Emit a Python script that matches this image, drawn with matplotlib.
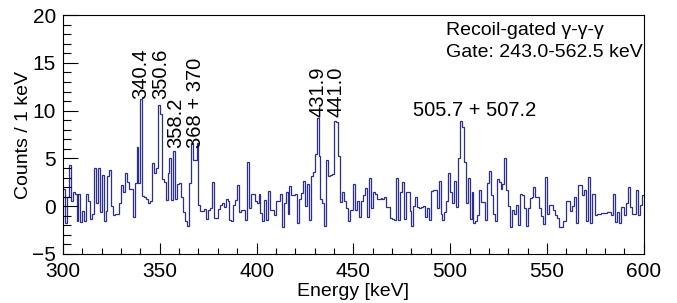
import numpy as np
import matplotlib
matplotlib.use("Agg")
import matplotlib.pyplot as plt
from matplotlib.ticker import MultipleLocator

plt.rcParams['font.family'] = ['Liberation Sans', 'DejaVu Sans']

# Data: background-subtracted counts per 1 keV bin, 300-600 keV
bin_start = 300
bin_width = 1
counts = [
    1.8, -1.8, 1.0, 4.3, 0.5, 1.5, 1.3, -1.6, 1.3, -1.7,      # 300
    -0.5, -1.6, 1.3, 0.5, -1.3, -0.8, 4.0, 0.3, 4.0, -0.6,    # 310
    3.3, -1.6, -0.5, 3.2, 3.8, 0.0, -0.9, -0.8, -0.8, 0.3,    # 320
    2.2, 1.5, 3.5, 2.5, 1.8, 1.8, -1.1, 2.4, 6.2, 2.4,        # 330
    11.2, 1.1, 1.0, 0.8, 0.3, 0.5, 4.5, 3.5, 4.0, 10.6,       # 340
    9.7, 2.8, 2.5, 0.6, 3.5, 5.0, 0.6, 5.8, 0.8, 2.3,         # 350
    2.4, 1.0, -0.6, -1.6, -2.1, 2.4, 6.6, 4.8, 4.8, 6.6,      # 360
    0.1, -0.5, -0.5, -0.3, -1.3, -0.4, -0.2, 2.5, -1.2, -1.2, # 370
    -0.3, 0.1, 0.3, -0.1, 0.8, 0.5, -1.5, -1.6, 0.1, 0.6,     # 380
    2.2, -0.6, -0.4, -0.4, -1.4, 4.6, -0.2, 1.3, 1.3, 0.5,    # 390
    0.3, 1.3, -0.7, -1.6, 0.6, -1.5, 1.6, -0.4, -0.4, -0.9,   # 400
    0.5, 0.5, 1.3, -2.2, 0.3, 1.5, -0.8, 2.1, 1.2, 1.2,       # 410
    1.3, -1.8, 0.8, 1.4, 2.6, 0.0, 2.3, -1.5, 3.2, 3.6,       # 420
    5.5, 9.2, 5.3, 0.7, 0.3, -2.1, 4.8, 3.2, 3.3, 3.4,        # 430
    8.9, 8.8, 5.3, 0.4, 1.5, 0.5, -0.2, -1.6, -0.4, -0.4,     # 440
    2.3, -0.4, 0.5, -1.1, 0.5, 1.2, 1.9, -1.1, 2.9, -0.2,     # 450
    1.5, 1.3, 0.8, 0.8, 0.9, 0.8, 1.0, -0.1, -0.1, -1.2,      # 460
    -1.3, -1.5, 2.9, -1.4, 1.5, 2.5, -1.3, 1.5, 1.5, -0.5,    # 470
    -2.1, 0.0, 1.0, -0.1, -0.2, -0.1, 0.0, -1.1, -0.2, -1.5,  # 480
    1.6, 1.7, 1.7, -0.2, 2.6, -0.8, -1.5, -0.6, 0.5, 3.5,     # 490
    1.5, 0.3, 2.6, -0.1, 5.0, 8.9, 8.3, 4.6, 0.3, 2.9,        # 500
    -1.3, 1.5, -1.8, -1.6, -0.9, 1.7, 0.4, 0.4, -1.5, 2.4,    # 510
    3.7, 1.2, -0.8, -1.6, 2.8, 2.5, 1.8, 2.3, 5.0, 1.7,       # 520
    0.0, -2.2, -0.4, -0.8, 0.1, -2.0, 1.3, 1.2, -0.2, -2.1,   # 530
    -0.2, 0.9, 1.0, 2.0, 1.0, 1.0, -0.2, -1.0, -1.9, 3.1,     # 540
    -0.8, 0.1, 0.1, -0.4, -0.9, -1.2, -2.2, -2.2, -1.6, -1.6, # 550
    0.5, 0.5, -0.5, 0.0, 1.0, -1.8, 2.2, 2.2, 1.2, 1.7,       # 560
    -1.6, 3.1, -1.8, 1.3, 1.3, -0.9, -0.8, -0.8, -0.7, -0.7,  # 570
    -0.7, -0.6, -0.6, -0.9, 1.3, -1.7, -0.6, -1.8, -0.1, -0.1, # 580
    -0.9, 0.3, 2.0, -0.1, -0.8, -0.8, 1.7, -0.9, 0.1, 1.2,    # 590
]

# Peak labels
vlabel_text = ["340.4", "350.6", "358.2", "368 + 370", "431.9", "441.0"]
vlabel_x = [340.4, 350.6, 358.2, 368.7, 431.5, 441.0]
vlabel_y = [11.2, 11.2, 6.1, 6.1, 9.3, 9.3]
hlabel_text = "505.7 + 507.2"
hlabel_x = 512.5
hlabel_y = 9.0

info_lines = ["Recoil-gated γ-γ-γ", "Gate: 243.0-562.5 keV"]

counts = np.array(counts)
edges = bin_start + bin_width * np.arange(len(counts) + 1)

fig = plt.figure(figsize=(6.77, 3.03), dpi=100)
ax = fig.add_axes([0.093, 0.162, 0.858, 0.788])

ax.stairs(counts, edges, baseline=None, color='#2c2f8e', linewidth=0.9)

ax.set_xlim(300, 600)
ax.set_ylim(-5, 20)
ax.xaxis.set_major_locator(MultipleLocator(50))
ax.xaxis.set_minor_locator(MultipleLocator(10))
ax.yaxis.set_major_locator(MultipleLocator(5))
ax.yaxis.set_minor_locator(MultipleLocator(1))
ax.tick_params(axis='both', which='both', direction='in', top=False, right=False,
               width=0.8, labelsize=15)
ax.tick_params(axis='x', which='major', length=8, pad=6)
ax.tick_params(axis='x', which='minor', length=4)
ax.tick_params(axis='y', which='major', length=11, pad=5)
ax.tick_params(axis='y', which='minor', length=5.5)
for s in ax.spines.values():
    s.set_linewidth(0.8)

ax.set_xlabel("Energy [keV]", fontsize=14, labelpad=1)
ax.set_ylabel("Counts / 1 keV", fontsize=14, labelpad=0)

for t, x, y in zip(vlabel_text, vlabel_x, vlabel_y):
    ax.text(x, y, t, rotation=90, ha='center', va='bottom', fontsize=14.5)
ax.text(hlabel_x, hlabel_y, hlabel_text, ha='center', va='bottom', fontsize=14.5)

ax.text(0.659, 0.935, info_lines[0], transform=ax.transAxes, ha='left', va='center', fontsize=14)
ax.text(0.659, 0.845, info_lines[1], transform=ax.transAxes, ha='left', va='center', fontsize=14)

fig.savefig("out.png", dpi=100)
